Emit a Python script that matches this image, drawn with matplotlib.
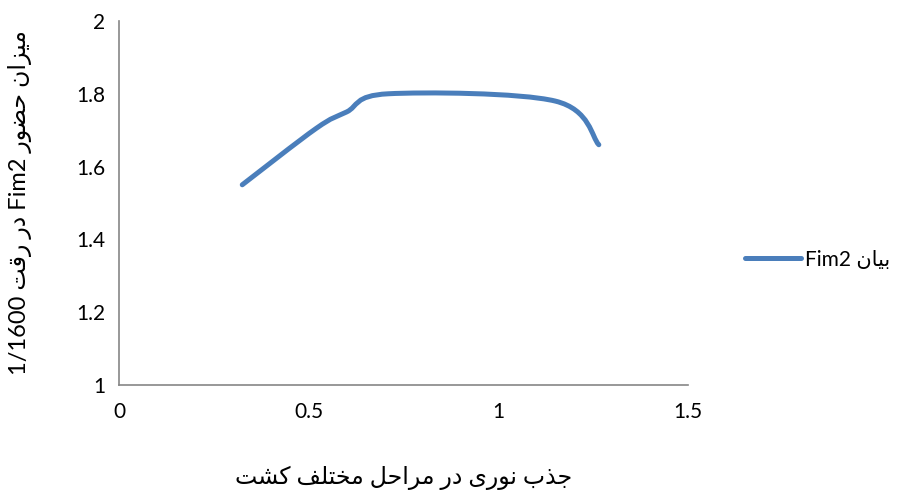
#!/usr/bin/env python3
import matplotlib
matplotlib.use("Agg")
import matplotlib.pyplot as plt
from matplotlib.path import Path
from matplotlib.patches import PathPatch
from matplotlib.lines import Line2D

# values
od = [0.325, 0.52, 0.60, 0.71, 1.15, 1.265]
fim2 = [1.55, 1.705, 1.75, 1.80, 1.78, 1.66]

xticks = [0, 0.5, 1, 1.5]
xticklabels = ["0", "0.5", "1", "1.5"]
yticks = [1, 1.2, 1.4, 1.6, 1.8, 2]
yticklabels = ["1", "1.2", "1.4", "1.6", "1.8", "2"]

xlabel = "جذب نوری در مراحل مختلف کشت"
ylabel = "میزان حضور Fim2 در رقت 1/1600"
legend_label = "بیان Fim2"

# contextual forms: (isolated, final, initial, medial); None -> right joining only
FORMS = {
    "ا": ("\uFE8D", "\uFE8E", None, None),
    "ب": ("\uFE8F", "\uFE90", "\uFE91", "\uFE92"),
    "ت": ("\uFE95", "\uFE96", "\uFE97", "\uFE98"),
    "ج": ("\uFE9D", "\uFE9E", "\uFE9F", "\uFEA0"),
    "ح": ("\uFEA1", "\uFEA2", "\uFEA3", "\uFEA4"),
    "خ": ("\uFEA5", "\uFEA6", "\uFEA7", "\uFEA8"),
    "د": ("\uFEA9", "\uFEAA", None, None),
    "ذ": ("\uFEAB", "\uFEAC", None, None),
    "ر": ("\uFEAD", "\uFEAE", None, None),
    "ز": ("\uFEAF", "\uFEB0", None, None),
    "ش": ("\uFEB5", "\uFEB6", "\uFEB7", "\uFEB8"),
    "ض": ("\uFEBD", "\uFEBE", "\uFEBF", "\uFEC0"),
    "ف": ("\uFED1", "\uFED2", "\uFED3", "\uFED4"),
    "ق": ("\uFED5", "\uFED6", "\uFED7", "\uFED8"),
    "ل": ("\uFEDD", "\uFEDE", "\uFEDF", "\uFEE0"),
    "م": ("\uFEE1", "\uFEE2", "\uFEE3", "\uFEE4"),
    "ن": ("\uFEE5", "\uFEE6", "\uFEE7", "\uFEE8"),
    "و": ("\uFEED", "\uFEEE", None, None),
    "ک": ("\uFB8E", "\uFB8F", "\uFB90", "\uFB91"),
    "ی": ("\uFBFC", "\uFBFD", "\uFBFE", "\uFBFF"),
}


def shape_word(w):
    out = []
    for i, c in enumerate(w):
        if c not in FORMS:
            out.append(c)
            continue
        prev = w[i - 1] if i > 0 else ""
        nxt = w[i + 1] if i + 1 < len(w) else ""
        join_prev = prev in FORMS and FORMS[prev][2] is not None
        join_next = nxt in FORMS and FORMS[c][2] is not None
        iso, fin, ini, med = FORMS[c]
        if join_prev and join_next:
            out.append(med)
        elif join_prev:
            out.append(fin)
        elif join_next:
            out.append(ini)
        else:
            out.append(iso)
    return "".join(out)


def rtl(text):
    # right-to-left paragraph: reverse word order, reverse arabic words
    words = []
    for w in text.split(" "):
        if any(c in FORMS for c in w):
            words.append(shape_word(w)[::-1])
        else:
            words.append(w)
    return " ".join(words[::-1])


def smooth_path(xs, ys):
    # excel style smoothed line, bezier through the points
    pts = list(zip(xs, ys))
    n = len(pts)
    verts = [pts[0]]
    codes = [Path.MOVETO]
    for i in range(n - 1):
        p0 = pts[i - 1] if i > 0 else pts[i]
        p1 = pts[i]
        p2 = pts[i + 1]
        p3 = pts[i + 2] if i + 2 < n else pts[i + 1]
        c1 = (p1[0] + (p2[0] - p0[0]) / 6, p1[1] + (p2[1] - p0[1]) / 6)
        c2 = (p2[0] - (p3[0] - p1[0]) / 6, p2[1] - (p3[1] - p1[1]) / 6)
        verts += [c1, c2, p2]
        codes += [Path.CURVE4] * 3
    return Path(verts, codes)


plt.rcParams["font.family"] = ["Lato", "DejaVu Sans"]
fam = ["Lato", "DejaVu Sans"]
blue = "#4A7EBB"
gray = "#868686"

fig = plt.figure(figsize=(9, 4.9), dpi=100)
ax = fig.add_axes([0.1322, 0.2143, 0.6322, 0.7429])

ax.add_patch(PathPatch(smooth_path(od, fim2), facecolor="none", edgecolor=blue,
                       lw=3.6, capstyle="round", joinstyle="round"))

ax.set_xlim(0, 1.5)
ax.set_ylim(1, 2)
ax.set_xticks(xticks)
ax.set_xticklabels(xticklabels)
ax.set_yticks(yticks)
ax.set_yticklabels(yticklabels)
ax.tick_params(length=0, labelsize=15, colors="black", pad=10)
ax.tick_params(axis="x", pad=12)
for s in ["top", "right"]:
    ax.spines[s].set_visible(False)
for s in ["left", "bottom"]:
    ax.spines[s].set_color(gray)
    ax.spines[s].set_linewidth(1.2)

ax.set_xlabel(rtl(xlabel), fontsize=17, family=fam, labelpad=32)
ax.set_ylabel(rtl(ylabel), fontsize=17, family=fam, labelpad=32)

handle = Line2D([], [], color=blue, lw=3.6, solid_capstyle="round")
leg = fig.legend([handle], [rtl(legend_label)], loc="center left",
                 bbox_to_anchor=(0.828, 0.47), frameon=False, borderpad=0,
                 borderaxespad=0, prop={"family": fam, "size": 15},
                 handlelength=2.7, handletextpad=0.15)

fig.savefig("out.png", dpi=100)
